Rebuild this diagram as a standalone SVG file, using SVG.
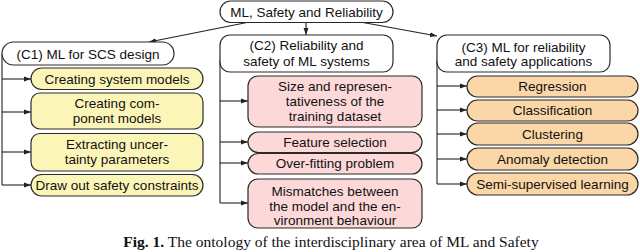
<svg xmlns="http://www.w3.org/2000/svg" width="640" height="252" viewBox="0 0 640 252">
<style>
.box{stroke:#2a2a2a;stroke-width:1.2;}
.w{fill:#fff;}
.y{fill:#fcf5b8;}
.p{fill:#fdd8d8;}
.o{fill:#fbd6a6;}
text{font-family:"Liberation Sans",Arial,sans-serif;font-size:13.5px;fill:#111;text-anchor:middle;}
.cap{font-family:"Liberation Serif","Times New Roman",serif;font-size:15.5px;}
.ln{stroke:#222;stroke-width:1.1;fill:none;}
</style>
<defs>
<marker id="ah" viewBox="0 0 10 10" refX="10" refY="5" markerWidth="7" markerHeight="7" orient="auto" markerUnits="userSpaceOnUse">
<path d="M0,1.5 L10,5 L0,8.5 z" fill="#222"/>
</marker>
</defs>
<g id="connectors">
<path class="ln" d="M247,22.5 L149,42" marker-end="url(#ah)"/>
<path class="ln" d="M306,22.5 L306,35" marker-end="url(#ah)"/>
<path class="ln" d="M363,22.5 L437,36" marker-end="url(#ah)"/>
<path class="ln" d="M2,54 L2,185"/>
<path class="ln" d="M2,79 L31,79" marker-end="url(#ah)"/>
<path class="ln" d="M2,112 L31,112" marker-end="url(#ah)"/>
<path class="ln" d="M2,152 L31,152" marker-end="url(#ah)"/>
<path class="ln" d="M2,185 L31,185" marker-end="url(#ah)"/>
<path class="ln" d="M220,60 L220,203"/>
<path class="ln" d="M220,101 L248,101" marker-end="url(#ah)"/>
<path class="ln" d="M220,142 L248,142" marker-end="url(#ah)"/>
<path class="ln" d="M220,163 L248,163" marker-end="url(#ah)"/>
<path class="ln" d="M220,203 L248,203" marker-end="url(#ah)"/>
<path class="ln" d="M437,60 L437,184"/>
<path class="ln" d="M437,86 L467,86" marker-end="url(#ah)"/>
<path class="ln" d="M437,110 L467,110" marker-end="url(#ah)"/>
<path class="ln" d="M437,134 L467,134" marker-end="url(#ah)"/>
<path class="ln" d="M437,159 L467,159" marker-end="url(#ah)"/>
<path class="ln" d="M437,184 L467,184" marker-end="url(#ah)"/>
</g>
<g id="root">
<rect class="box w" x="220" y="1" width="173" height="21.5" rx="10.75"/>
<text x="306.5" y="16.5">ML, Safety and Reliability</text>
</g>
<g id="c1">
<rect class="box w" x="2" y="42" width="172" height="23" rx="11.5"/>
<text x="88" y="58.5">(C1) ML for SCS design</text>
</g>
<g id="c1-1">
<rect class="box y" x="31" y="68" width="172" height="21.5" rx="10.75"/>
<text x="117" y="83.5">Creating system models</text>
</g>
<g id="c1-2">
<rect class="box y" x="31" y="93" width="172" height="36" rx="9"/>
<text x="117" y="107.5">Creating com-</text>
<text x="117" y="123">ponent models</text>
</g>
<g id="c1-3">
<rect class="box y" x="31" y="133.5" width="172" height="37.5" rx="9"/>
<text x="117" y="148.5">Extracting uncer-</text>
<text x="117" y="164">tainty parameters</text>
</g>
<g id="c1-4">
<rect class="box y" x="31" y="174.5" width="172" height="21.5" rx="10.75"/>
<text x="117" y="190">Draw out safety constraints</text>
</g>
<g id="c2">
<rect class="box w" x="220" y="35" width="173" height="37" rx="10"/>
<text x="306.5" y="50">(C2) Reliability and</text>
<text x="306.5" y="65.5">safety of ML systems</text>
</g>
<g id="c2-1">
<rect class="box p" x="248" y="76" width="174" height="51" rx="10"/>
<text x="335" y="90.5">Size and represen-</text>
<text x="335" y="105.5">tativeness of the</text>
<text x="335" y="120.5">training dataset</text>
</g>
<g id="c2-2">
<rect class="box p" x="248" y="132" width="174" height="20.5" rx="10.25"/>
<text x="335" y="147">Feature selection</text>
</g>
<g id="c2-3">
<rect class="box p" x="248" y="153.5" width="174" height="20.5" rx="10.25"/>
<text x="335" y="168">Over-fitting problem</text>
</g>
<g id="c2-4">
<rect class="box p" x="248" y="179" width="174" height="49" rx="10"/>
<text x="335" y="195.5">Mismatches between</text>
<text x="335" y="210.5">the model and the en-</text>
<text x="335" y="225">vironment behaviour</text>
</g>
<g id="c3">
<rect class="box w" x="437" y="35" width="173" height="37" rx="10"/>
<text x="523.5" y="51.5">(C3) ML for reliability</text>
<text x="523.5" y="66">and safety applications</text>
</g>
<g id="c3-1">
<rect class="box o" x="467" y="76" width="171" height="21" rx="10.5"/>
<text x="552.5" y="91">Regression</text>
</g>
<g id="c3-2">
<rect class="box o" x="467" y="100" width="171" height="21" rx="10.5"/>
<text x="552.5" y="115">Classification</text>
</g>
<g id="c3-3">
<rect class="box o" x="467" y="123" width="171" height="22" rx="11"/>
<text x="552.5" y="138.5">Clustering</text>
</g>
<g id="c3-4">
<rect class="box o" x="467" y="148" width="171" height="22" rx="11"/>
<text x="552.5" y="163.5">Anomaly detection</text>
</g>
<g id="c3-5">
<rect class="box o" x="467" y="173" width="171" height="22" rx="11"/>
<text x="552.5" y="188.5">Semi-supervised learning</text>
</g>
<text class="cap" x="331" y="247"><tspan font-weight="bold">Fig. 1.</tspan> The ontology of the interdisciplinary area of ML and Safety</text>
</svg>
